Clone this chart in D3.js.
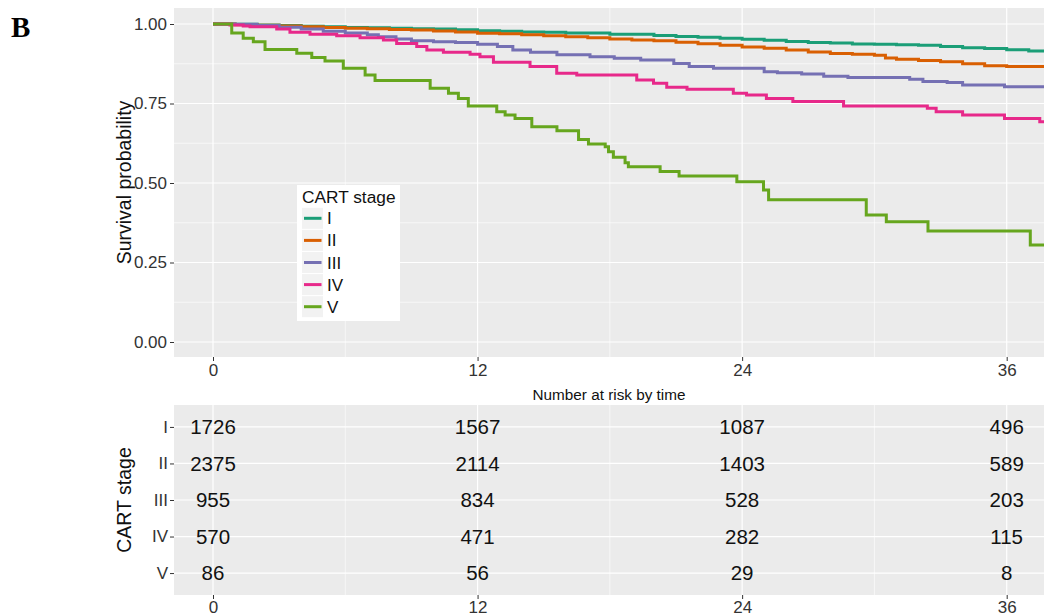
<!DOCTYPE html>
<html>
<head>
<meta charset="utf-8">
<script src="https://cdn.jsdelivr.net/npm/d3@7"></script>
<style>
  html, body { margin: 0; padding: 0; background: #fff; }
  svg { display: block; font-family: "Liberation Sans", Arial, sans-serif; }
</style>
</head>
<body>
<svg id="chart" width="1044" height="616"></svg>
<script>
// ---------------- data ----------------
const stages = ["I", "II", "III", "IV", "V"];
const stageColors = ["#1B9E77", "#D95F02", "#7570B3", "#E7298A", "#66A61E"];

const timeI = [0,1,2,3,4,5,6,7,8,9,10,11,12,13,14,15,16,18,20,21,22,23,24,25,26,27,28,29,30,31,32,33,34,35,36,37,37.7];
const survI = [1,0.999,0.997,0.995,0.993,0.991,0.989,0.988,0.987,0.985,0.984,0.982,0.979,0.977,0.975,0.974,0.972,0.968,0.964,0.961,0.958,0.955,0.952,0.949,0.945,0.942,0.940,0.937,0.936,0.935,0.933,0.929,0.925,0.923,0.919,0.915,0.913];

const timeII = [0,1,2,3,4,5,6,7,8,9,10,11,12,13,14,15,16,17,18,19,20,21,22,23,24,25,26,27,28,29,30,30.5,31,32,33,34,35,36,37.7];
const survII = [1,0.998,0.996,0.994,0.991,0.989,0.987,0.985,0.983,0.981,0.978,0.975,0.971,0.969,0.966,0.963,0.960,0.957,0.953,0.950,0.947,0.943,0.938,0.933,0.928,0.924,0.918,0.912,0.907,0.905,0.902,0.893,0.889,0.885,0.881,0.875,0.869,0.866,0.866];

const timeIII = [0,1,2,3,4,5,6,7,7.5,8.3,9,10,11,12,12.9,13.6,14.4,15.6,17.1,18.2,19.4,20.9,21.6,22.7,25,25.6,26.7,27.7,28.8,31.6,32.2,33.3,34,35.9,37.7];
const survIII = [1,0.999,0.995,0.990,0.984,0.977,0.972,0.966,0.960,0.953,0.947,0.944,0.942,0.936,0.929,0.918,0.911,0.903,0.897,0.892,0.887,0.876,0.866,0.861,0.850,0.847,0.843,0.836,0.832,0.826,0.819,0.816,0.808,0.803,0.803];

const timeIV = [0,0.77,1.37,1.68,2.89,3.49,4.4,5.61,6.67,7.73,8.33,9.24,9.7,10.45,11.66,12.11,12.72,14.38,15.59,16.5,19.22,19.98,20.58,21.5,23.6,24.2,25.1,26.3,28.6,32.4,32.8,34.0,35.9,37.5,37.7];
const survIV = [1,0.997,0.994,0.991,0.984,0.974,0.968,0.963,0.957,0.950,0.939,0.929,0.918,0.911,0.905,0.897,0.880,0.866,0.845,0.840,0.824,0.814,0.801,0.795,0.782,0.777,0.766,0.756,0.742,0.735,0.724,0.714,0.703,0.693,0.693];

const timeV = [0,0.85,1.37,1.83,2.36,3.80,4.48,5.08,5.91,6.90,7.35,9.85,10.68,11.13,11.58,12.87,13.25,13.7,14.46,15.6,16.58,17.03,17.79,17.94,18.16,18.69,18.84,20.28,21.14,23.76,24.97,25.2,29.63,30.54,32.43,37.07,37.7];
const survV = [1,0.972,0.955,0.944,0.920,0.908,0.895,0.884,0.861,0.840,0.822,0.798,0.782,0.766,0.742,0.724,0.714,0.703,0.677,0.664,0.637,0.623,0.614,0.598,0.581,0.564,0.551,0.536,0.522,0.504,0.478,0.447,0.399,0.378,0.349,0.305,0.305];

const riskTimes = [0, 12, 24, 36];
const riskI = [1726, 1567, 1087, 496];
const riskII = [2375, 2114, 1403, 589];
const riskIII = [955, 834, 528, 203];
const riskIV = [570, 471, 282, 115];
const riskV = [86, 56, 29, 8];

const xTicks = [0, 12, 24, 36];
const xMinor = [6, 18, 30];
const yTicks = [0, 0.25, 0.5, 0.75, 1];
const yTickLabels = ["0.00", "0.25", "0.50", "0.75", "1.00"];
const yMinor = [0.125, 0.375, 0.625, 0.875];

const seriesTimes = [timeI, timeII, timeIII, timeIV, timeV];
const seriesSurv = [survI, survII, survIII, survIV, survV];
const riskRows = [riskI, riskII, riskIII, riskIV, riskV];

// ---------------- layout ----------------
const svg = d3.select("#chart");
const panelL = 174, panelR = 1044;
const top1 = 8, bot1 = 357;
const top2 = 405, bot2 = 595;
const bg = "#EBEBEB";

const x = d3.scaleLinear().domain([0, 36]).range([213, 1006.7]);
const y = d3.scaleLinear().domain([0, 1]).range([342, 24]);

// ---- survival panel ----
const g1 = svg.append("g");
g1.append("rect").attr("x", panelL).attr("y", top1).attr("width", panelR - panelL).attr("height", bot1 - top1).attr("fill", bg);

g1.selectAll(".ymin").data(yMinor).join("line")
  .attr("x1", panelL).attr("x2", panelR).attr("y1", d => y(d)).attr("y2", d => y(d))
  .attr("stroke", "#fff").attr("stroke-width", 0.6);
g1.selectAll(".xmin").data(xMinor).join("line")
  .attr("y1", top1).attr("y2", bot1).attr("x1", d => x(d)).attr("x2", d => x(d))
  .attr("stroke", "#fff").attr("stroke-width", 0.6);
g1.selectAll(".ymaj").data(yTicks).join("line")
  .attr("x1", panelL).attr("x2", panelR).attr("y1", d => y(d)).attr("y2", d => y(d))
  .attr("stroke", "#fff").attr("stroke-width", 1.2);
g1.selectAll(".xmaj").data(xTicks).join("line")
  .attr("y1", top1).attr("y2", bot1).attr("x1", d => x(d)).attr("x2", d => x(d))
  .attr("stroke", "#fff").attr("stroke-width", 1.2);

svg.append("clipPath").attr("id", "clip1").append("rect")
  .attr("x", panelL).attr("y", top1).attr("width", panelR - panelL).attr("height", bot1 - top1);

const line = d3.line().curve(d3.curveStepAfter).x(d => x(d[0])).y(d => y(d[1]));
const curves = g1.append("g").attr("clip-path", "url(#clip1)");
stages.forEach((s, i) => {
  const pts = seriesTimes[i].map((t, j) => [t, seriesSurv[i][j]]);
  curves.append("path").attr("d", line(pts)).attr("fill", "none")
    .attr("stroke", stageColors[i]).attr("stroke-width", 3).attr("stroke-linejoin", "miter");
});

// y axis
const yAxis = svg.append("g").attr("transform", `translate(${panelL},0)`)
  .call(d3.axisLeft(y).tickValues(yTicks).tickFormat((d, i) => yTickLabels[i]).tickSize(4).tickPadding(3));
yAxis.select(".domain").remove();
yAxis.selectAll("line").attr("stroke", "#333");
yAxis.selectAll("text").attr("font-size", 17).attr("fill", "#333").attr("font-family", "Liberation Sans, Arial, sans-serif");

// x axis (top panel)
const xAxis1 = svg.append("g").attr("transform", `translate(0,${bot1})`)
  .call(d3.axisBottom(x).tickValues(xTicks).tickSize(4).tickPadding(3));
xAxis1.select(".domain").remove();
xAxis1.selectAll("line").attr("stroke", "#333");
xAxis1.selectAll("text").attr("font-size", 17).attr("fill", "#333").attr("font-family", "Liberation Sans, Arial, sans-serif");

svg.append("text").attr("transform", `translate(131,${(top1 + bot1) / 2}) rotate(-90)`)
  .attr("text-anchor", "middle").attr("font-size", 19.5).attr("fill", "#111").text("Survival probability");

// legend
const lg = svg.append("g");
lg.append("rect").attr("x", 297).attr("y", 185).attr("width", 103).attr("height", 136).attr("fill", "#fff");
lg.append("text").attr("x", 302).attr("y", 203).attr("font-size", 17.3).attr("fill", "#111").text("CART stage");
stages.forEach((s, i) => {
  const cy = 218.3 + i * 22.1;
  lg.append("rect").attr("x", 302).attr("y", cy - 10.5).attr("width", 21).attr("height", 21).attr("fill", "#F2F2F2");
  lg.append("line").attr("x1", 304).attr("x2", 321.5).attr("y1", cy).attr("y2", cy)
    .attr("stroke", stageColors[i]).attr("stroke-width", 3);
  lg.append("text").attr("x", 327).attr("y", cy + 6).attr("font-size", 17).attr("fill", "#111").text(s);
});

// B label
svg.append("text").attr("x", 11).attr("y", 37).attr("font-family", "Liberation Serif, Times New Roman, serif")
  .attr("font-weight", "bold").attr("font-size", 29).attr("fill", "#000").text("B");

// ---- risk table ----
svg.append("text").attr("x", (panelL + panelR) / 2).attr("y", 399.5).attr("text-anchor", "middle")
  .attr("font-size", 15.3).attr("fill", "#111").text("Number at risk by time");

const yr = d3.scalePoint().domain(stages).range([top2, bot2]).padding(0.6);
const g2 = svg.append("g");
g2.append("rect").attr("x", panelL).attr("y", top2).attr("width", panelR - panelL).attr("height", bot2 - top2).attr("fill", bg);
g2.selectAll(".xmin2").data(xMinor).join("line")
  .attr("y1", top2).attr("y2", bot2).attr("x1", d => x(d)).attr("x2", d => x(d))
  .attr("stroke", "#fff").attr("stroke-width", 0.6);
g2.selectAll(".xmaj2").data(xTicks).join("line")
  .attr("y1", top2).attr("y2", bot2).attr("x1", d => x(d)).attr("x2", d => x(d))
  .attr("stroke", "#fff").attr("stroke-width", 1.2);
g2.selectAll(".ymaj2").data(stages).join("line")
  .attr("x1", panelL).attr("x2", panelR).attr("y1", d => yr(d)).attr("y2", d => yr(d))
  .attr("stroke", "#fff").attr("stroke-width", 1.2);

stages.forEach((s, i) => {
  g2.selectAll(null).data(riskTimes).join("text")
    .attr("x", d => x(d)).attr("y", yr(s)).attr("dy", "0.36em").attr("text-anchor", "middle")
    .attr("font-size", 20.5).attr("fill", "#111")
    .text((d, j) => riskRows[i][j]);
});

const yAxis2 = svg.append("g").attr("transform", `translate(${panelL},0)`)
  .call(d3.axisLeft(yr).tickSize(4).tickPadding(2));
yAxis2.select(".domain").remove();
yAxis2.selectAll("line").attr("stroke", "#333");
yAxis2.selectAll("text").attr("font-size", 17).attr("fill", "#333").attr("font-family", "Liberation Sans, Arial, sans-serif");

const xAxis2 = svg.append("g").attr("transform", `translate(0,${bot2})`)
  .call(d3.axisBottom(x).tickValues(xTicks).tickSize(4).tickPadding(2));
xAxis2.select(".domain").remove();
xAxis2.selectAll("line").attr("stroke", "#333");
xAxis2.selectAll("text").attr("font-size", 17).attr("fill", "#333").attr("font-family", "Liberation Sans, Arial, sans-serif");

svg.append("text").attr("transform", `translate(131,${(top2 + bot2) / 2}) rotate(-90)`)
  .attr("text-anchor", "middle").attr("font-size", 19.5).attr("fill", "#111").text("CART stage");
</script>
</body>
</html>
